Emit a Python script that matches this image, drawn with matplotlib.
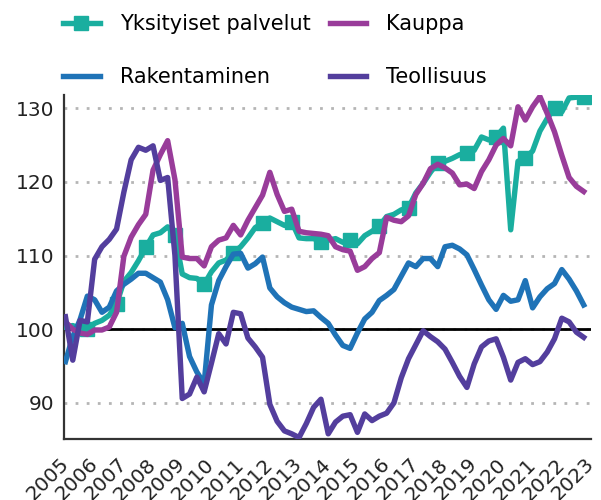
import numpy as np
import pandas as pd
import matplotlib
matplotlib.use("Agg")
import matplotlib.pyplot as plt

# quarterly index values, 2005Q1 ->
yksityiset = [100.3, 100.5, 100.1, 100.0, 100.8, 101.2, 101.9, 103.4, 106.5, 107.7,
              109.3, 111.1, 112.8, 113.1, 113.9, 112.8, 107.5, 107.0, 106.9, 106.1,
              107.8, 109.0, 109.4, 110.4, 111.2, 112.4, 113.8, 114.4, 115.1, 114.6,
              114.1, 114.6, 112.4, 112.3, 112.3, 111.9, 112.1, 112.3, 111.8, 112.1,
              111.6, 112.7, 113.3, 114.0, 115.3, 115.6, 116.2, 116.5, 118.5, 119.8,
              121.3, 122.6, 122.8, 123.2, 123.7, 123.9, 124.3, 126.1, 125.7, 126.1,
              127.3, 113.5, 122.8, 123.2, 124.2, 126.9, 128.6, 130.1, 129.5, 131.4,
              131.5, 131.5, 131.5]
kauppa = [101.0, 100.0, 99.5, 99.3, 99.9, 99.9, 100.3, 102.3, 109.9, 112.5,
          114.2, 115.6, 121.6, 123.7, 125.6, 120.3, 109.8, 109.6, 109.6, 108.6,
          111.2, 112.1, 112.4, 114.1, 112.8, 114.8, 116.5, 118.2, 121.3, 118.3,
          116.0, 116.3, 113.3, 113.1, 113.0, 112.9, 112.7, 111.2, 110.8, 110.6,
          108.0, 108.5, 109.6, 110.4, 115.2, 114.8, 114.6, 115.4, 118.3, 119.8,
          121.8, 122.4, 121.9, 121.2, 119.6, 119.7, 119.1, 121.4, 123.0, 125.0,
          125.9, 124.9, 130.2, 128.4, 130.2, 131.6, 129.3, 126.8, 123.6, 120.6,
          119.4, 118.7]
rakentaminen = [95.6, 99.0, 101.3, 104.5, 104.0, 102.3, 103.0, 105.2, 106.1, 106.8,
                107.6, 107.6, 107.0, 106.4, 104.0, 100.2, 100.8, 96.3, 94.2, 92.6,
                103.3, 106.6, 108.5, 110.2, 110.3, 108.3, 108.9, 109.8, 105.6, 104.4,
                103.6, 103.0, 102.7, 102.4, 102.5, 101.6, 100.8, 99.2, 97.8, 97.4,
                99.5, 101.4, 102.3, 103.9, 104.6, 105.4, 107.2, 109.0, 108.5, 109.6,
                109.6, 108.5, 111.2, 111.4, 110.9, 110.1, 108.1, 106.0, 104.0, 102.7,
                104.6, 103.8, 104.0, 106.6, 102.9, 104.4, 105.5, 106.2, 108.1, 106.8,
                105.2, 103.3]
teollisuus = [101.7, 95.8, 101.2, 101.0, 109.5, 111.2, 112.2, 113.6, 118.6, 123.0,
              124.7, 124.3, 124.9, 120.2, 120.6, 110.0, 90.6, 91.2, 93.5, 91.5,
              95.4, 99.4, 98.0, 102.3, 102.1, 98.8, 97.6, 96.2, 89.8, 87.5,
              86.2, 85.8, 85.3, 87.2, 89.4, 90.5, 85.8, 87.4, 88.2, 88.4,
              86.0, 88.5, 87.6, 88.2, 88.6, 90.0, 93.4, 96.0, 97.9, 99.8,
              99.0, 98.3, 97.3, 95.5, 93.6, 92.1, 95.3, 97.6, 98.4, 98.7,
              96.2, 93.1, 95.5, 96.0, 95.2, 95.6, 96.9, 98.7, 101.5, 101.0,
              99.6, 98.9]
years = list(range(2005, 2024))

def quarter_x(n):
    p = pd.period_range("2005Q1", periods=n, freq="Q")
    return np.asarray(p.year + (p.quarter - 1) / 4.0, dtype=float)

c_yks = "#1aae9f"
c_kau = "#993c9a"
c_rak = "#1f73b7"
c_teo = "#533e9d"
lw = 3.9

fig = plt.figure(figsize=(6.01, 5.0), dpi=100)
ax = fig.add_axes([64 / 601, 1 - 439 / 500, 527 / 601, 344 / 500])

ax.axhline(100, color="black", lw=2, zorder=1)
ax.plot(quarter_x(len(yksityiset)), yksityiset, color=c_yks, lw=lw, marker="s",
        markersize=10.5, markevery=(3, 4), label="Yksityiset palvelut", zorder=3)
ax.plot(quarter_x(len(rakentaminen)), rakentaminen, color=c_rak, lw=lw,
        label="Rakentaminen", zorder=3)
ax.plot(quarter_x(len(kauppa)), kauppa, color=c_kau, lw=lw, label="Kauppa", zorder=3)
ax.plot(quarter_x(len(teollisuus)), teollisuus, color=c_teo, lw=lw,
        label="Teollisuus", zorder=3)

ax.set_xlim(2004.95, 2023.0)
ax.set_ylim(85.1, 131.8)
ax.set_yticks([90, 100, 110, 120, 130])
ax.grid(axis="y", color="#b5b5b5", lw=2, linestyle=(0, (1, 3)))
ax.set_axisbelow(True)

ax.set_xticks(years)
ax.set_xticklabels([str(y) for y in years])
for lab in ax.get_xticklabels():
    lab.set_rotation(45)
    lab.set_ha("right")
    lab.set_va("center")
    lab.set_rotation_mode("anchor")

ax.tick_params(axis="both", length=0, labelsize=14.5, colors="#222222")
ax.tick_params(axis="y", pad=7)
ax.tick_params(axis="x", pad=16)

for s in ["top", "right"]:
    ax.spines[s].set_visible(False)
for s in ["left", "bottom"]:
    ax.spines[s].set_color("#333333")
    ax.spines[s].set_linewidth(1.6)

ax.legend(loc="upper left", bbox_to_anchor=(63 / 601, 1 - 14 / 500),
          bbox_transform=fig.transFigure, ncol=2, frameon=False, fontsize=15,
          handlelength=1.76, handletextpad=0.96, columnspacing=0.93,
          labelspacing=1.58, borderpad=0, borderaxespad=0)

fig.savefig("out.png", dpi=100)
